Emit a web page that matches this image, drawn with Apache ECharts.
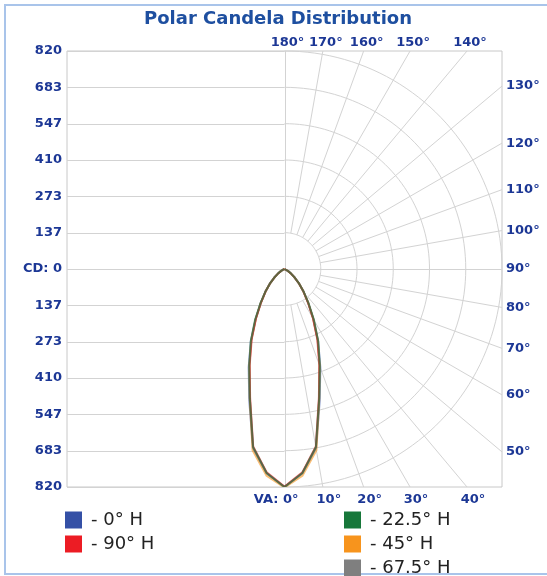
<!DOCTYPE html>
<html><head><meta charset="utf-8">
<script src="https://cdn.jsdelivr.net/npm/echarts@6/dist/echarts.min.js"></script>
<style>html,body{margin:0;padding:0;background:#fff}#c{width:547px;height:576px}</style>
</head><body><div id="c"></div>
<script>
// vertical angles (degrees from nadir) of the measured candela values
const vaAngles = [0,5,10,15,20,25,30,35,40,45,50,55,60,65,70,75,80,85,90];
// candela values per horizontal plane
const cd0H   = [820,772,684,512,394,300,218,156,112,78,50,30,16,8,4,2,1,0,0];
const cd90H  = [818,768,678,500,382,292,214,154,111,77,49,29,15,7,3,2,1,0,0];
const cd225H = [820,770,680,504,388,300,222,158,113,78,50,30,16,8,4,2,1,0,0];
const cd45H  = [822,780,692,505,386,296,216,155,111,77,49,29,15,7,3,2,1,0,0];
const cd675H = [820,770,682,503,386,295,216,155,112,78,50,30,16,8,4,2,1,0,0];
const seriesNames  = ['0° H','90° H','22.5° H','45° H','67.5° H'];
const seriesValues = [cd0H, cd90H, cd225H, cd45H, cd675H];
const seriesColors = ['#3450a6','#ec1c24','#17773a','#f7941d','#7f7f7f'];
const seriesLayer  = [3, 6, 7, 4, 5];
// candela axis
const cdMax = 820;
const cdTickLabels = ['820','683','547','410','273','137','CD: 0','137','273','410','547','683','820'];
// angle grid
const gridAngles  = [0,10,20,30,40,50,60,70,80,90,100,110,120,130,140,150,160,170,180];
const angleLabels = ['VA: 0°','10°','20°','30°','40°','50°','60°','70°','80°','90°','100°','110°','120°','130°','140°','150°','160°','170°','180°'];

const labelColor = '#1c3795';
const gridColor = '#d3d3d3';
const labelFont = 'bold 13px "DejaVu Sans"';
const step = cdMax / 6;

function renderGrid(params, api) {
  const ch = [];
  const st = {stroke: gridColor, lineWidth: 1, fill: null};
  const crisp = v => Math.round(v) + 0.5;
  function seg(p, q) { ch.push({type: 'line', shape: {x1: p[0], y1: p[1], x2: q[0], y2: q[1]}, style: st}); }
  // left-half horizontal lines
  for (let i = -6; i <= 6; i++) {
    const v = i * step;
    const a = api.coord([-cdMax, v]), b = api.coord([i === 0 ? cdMax : 0, v]);
    const y = crisp(a[1]);
    seg([a[0], y], [b[0], y]);
  }
  // centre vertical
  const t = api.coord([0, cdMax]), bt = api.coord([0, -cdMax]);
  seg([crisp(t[0]), t[1]], [crisp(t[0]), bt[1]]);
  // arcs
  for (let k = 1; k <= 6; k++) {
    const r = k * step, pts = [];
    for (let a = 0; a <= 180; a += 2) {
      const th = a * Math.PI / 180;
      pts.push(api.coord([r * Math.sin(th), -r * Math.cos(th)]));
    }
    ch.push({type: 'polyline', shape: {points: pts}, style: st});
  }
  // spokes + labels
  gridAngles.forEach((a, i) => {
    const th = a * Math.PI / 180, s = Math.sin(th), c = -Math.cos(th);
    let tEnd = Math.min(Math.abs(s) > 1e-9 ? cdMax / Math.abs(s) : Infinity, Math.abs(c) > 1e-9 ? cdMax / Math.abs(c) : Infinity);
    if (a !== 0 && a !== 90 && a !== 180) {
      seg(api.coord([step * s, step * c]), api.coord([tEnd * s, tEnd * c]));
    }
    const e = api.coord([tEnd * s, tEnd * c]);
    const lbl = {type: 'text', style: {text: angleLabels[i], font: labelFont, fill: labelColor}};
    if (Math.abs(s) > Math.abs(c) + 1e-9) {          // right edge
      Object.assign(lbl.style, {x: e[0] + 4, y: e[1], align: 'left', textAlign: 'left', verticalAlign: 'middle', textVerticalAlign: 'middle'});
    } else if (c > 0) {                               // top edge
      Object.assign(lbl.style, {x: e[0] + 3, y: e[1] - 8, align: 'center', textAlign: 'center', verticalAlign: 'middle', textVerticalAlign: 'middle'});
    } else {                                          // bottom edge
      if (a === 0) Object.assign(lbl.style, {x: e[0] + 14, y: e[1] + 13, align: 'right', textAlign: 'right', verticalAlign: 'middle', textVerticalAlign: 'middle'});
      else Object.assign(lbl.style, {x: e[0] + 6, y: e[1] + 13, align: 'center', textAlign: 'center', verticalAlign: 'middle', textVerticalAlign: 'middle'});
    }
    ch.push(lbl);
  });
  return {type: 'group', children: ch};
}

function loop(vals) {
  const pts = [];
  for (let i = vaAngles.length - 1; i >= 0; i--) pts.push([vals[i], vaAngles[i]]);
  for (let i = 1; i < vaAngles.length; i++) pts.push([vals[i], -vaAngles[i]]);
  return pts;
}

const chart = echarts.init(document.getElementById('c'), null, {renderer: 'canvas'});
const legendBase = {
  orient: 'vertical', top: 511, padding: 0, height: 70, itemWidth: 17, itemHeight: 17, itemGap: 6, icon: 'rect',
  selectedMode: false, formatter: n => '- ' + n,
  textStyle: {fontSize: 18, color: '#222', fontFamily: 'DejaVu Sans', padding: [0, 0, 0, 4]}
};
chart.setOption({
  animation: false,
  backgroundColor: '#fff',
  graphic: [
    {type: 'rect', shape: {x: 5, y: 5, width: 600, height: 569}, style: {fill: null, stroke: '#a9c4ea', lineWidth: 2}, z: 0},
    {type: 'text', x: 278, y: 19, style: {text: 'Polar Candela Distribution', font: 'bold 18px "DejaVu Sans"', fill: '#1e4fa0', align: 'center', verticalAlign: 'middle', textAlign: 'center', textVerticalAlign: 'middle'}}
  ],
  grid: {left: 67, right: 45, top: 51, bottom: 89, show: true, borderColor: '#c8c8c8', borderWidth: 1, backgroundColor: 'transparent'},
  xAxis: {type: 'value', min: -cdMax, max: cdMax, show: false},
  yAxis: {type: 'value', min: -cdMax, max: cdMax, interval: step,
    axisLine: {show: false}, axisTick: {show: false}, splitLine: {show: false},
    axisLabel: {margin: 5, color: labelColor, fontFamily: 'DejaVu Sans', fontWeight: 'bold', fontSize: 13,
      formatter: (v, i) => cdTickLabels[i]}},
  polar: {center: [284.5, 269], radius: 218},
  angleAxis: {type: 'value', min: -180, max: 180, startAngle: 90, clockwise: false, show: false},
  radiusAxis: {type: 'value', min: 0, max: cdMax, show: false},
  legend: [
    Object.assign({}, legendBase, {left: 65, data: seriesNames.slice(0, 2)}),
    Object.assign({}, legendBase, {left: 344, data: seriesNames.slice(2)})
  ],
  series: [
    {type: 'custom', coordinateSystem: 'cartesian2d', data: [[0, 0]], renderItem: renderGrid, z: 1, silent: true}
  ].concat(seriesNames.map((n, k) => ({
    name: n, type: 'line', coordinateSystem: 'polar', symbol: 'none', z: seriesLayer[k],
    data: loop(seriesValues[k]),
    itemStyle: {color: seriesColors[k], opacity: 1},
    lineStyle: {color: seriesColors[k], width: 2, opacity: 0.6}
  })))
});
</script>
</body></html>
